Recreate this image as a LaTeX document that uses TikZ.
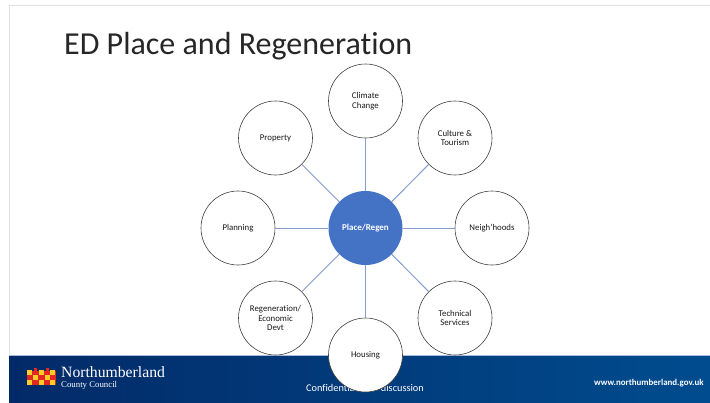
\documentclass[tikz,border=0pt]{standalone}
\usepackage{fontspec}
\setmainfont{Carlito}[Ligatures=CommonOff]
\newfontfamily\crestfont{Liberation Serif}
\definecolor{hubblue}{RGB}{68,114,196}
\definecolor{linkblue}{RGB}{133,156,205}
\definecolor{bandleft}{RGB}{3,42,104}
\definecolor{bandright}{RGB}{0,76,142}
\definecolor{crestred}{RGB}{226,40,32}
\definecolor{crestyellow}{RGB}{250,205,40}
\begin{document}
\begin{tikzpicture}[x=1pt,y=-1pt]
        \tikzstyle{spoke}=[circle,draw=black!75,fill=white,line width=0.6pt,minimum size=74pt,inner sep=0pt,align=center,font=\fontsize{8.8}{9.8}\selectfont,text=black!90]
        \tikzstyle{hub}=[circle,fill=hubblue,minimum size=74pt,inner sep=0pt,text=white,font=\fontsize{9}{10}\selectfont\bfseries]
        \tikzstyle{link}=[draw=linkblue,line width=1pt]
        \tikzstyle{bandtext}=[text=white,inner sep=0pt,anchor=west]

        \useasboundingbox (0,0) rectangle (710,402);
        \fill[white] (0,0) rectangle (710,402);

        \draw[black!12,line width=1pt] (9,402) -- (9,5) -- (710,5); % frame
        \shade[left color=bandleft,right color=bandright] (9,355) rectangle (710,402);
        \draw[linkblue!70,line width=0.6pt] (9,355) -- (710,355);

        \node (title) [anchor=west,inner sep=0pt,text=black!85,font=\fontsize{32}{36}\selectfont] at (64,46.5) {ED Place and Regeneration};

        % crest
        \fill[crestred] (27,371) rectangle (56,385);
        \foreach \x in {27,38.5,50}  \fill[crestyellow] (\x,370) rectangle (\x+5,375);
        \foreach \x in {33,44.5}  \fill[crestyellow] (\x,375) rectangle (\x+5,380);
        \foreach \x in {27,38.5,50}  \fill[crestyellow] (\x,380) rectangle (\x+5,385);
        \foreach \x in {33,44.5}  \fill[crestred] (\x+1,368) rectangle (\x+4,371);

        \node (crestname) [bandtext,font=\crestfont\fontsize{15.7}{17}\selectfont] at (61,372.5) {Northumberland};
        \node (crestsub) [bandtext,font=\crestfont\fontsize{8.8}{10}\selectfont] at (61,385) {County Council};
        \node (confidential) [bandtext,font=\fontsize{10.3}{12}\selectfont] at (306,387.5) {Confidential -- for discussion};
        \node (website) [bandtext,font=\fontsize{8.9}{10}\selectfont\bfseries] at (594,383) {www.northumberland.gov.uk};

        \node (regen) [hub] at (365.5,228) {Place/Regen};
        \node (climate) [spoke] at (365.5,101) {Climate\\Change};
        \node (culture) [spoke] at (455,138) {Culture \&\\Tourism};
        \node (hoods) [spoke] at (492,228) {Neigh'hoods};
        \node (technical) [spoke] at (455,318) {Technical\\Services};
        \node (housing) [spoke] at (365.5,355) {};
        \node (economic) [spoke] at (275.5,318) {Regeneration/\\Economic\\Devt};
        \node (planning) [spoke] at (238,228) {Planning};
        \node (property) [spoke] at (275.5,138) {Property};
        \node (housinglabel) [text=black!90,inner sep=0pt,font=\fontsize{8.8}{10}\selectfont] at (365.5,355) {Housing};

        \foreach \s in {climate,culture,hoods,technical,housing,economic,planning,property}
                \draw[link] (regen) -- (\s);
\end{tikzpicture}
\end{document}
